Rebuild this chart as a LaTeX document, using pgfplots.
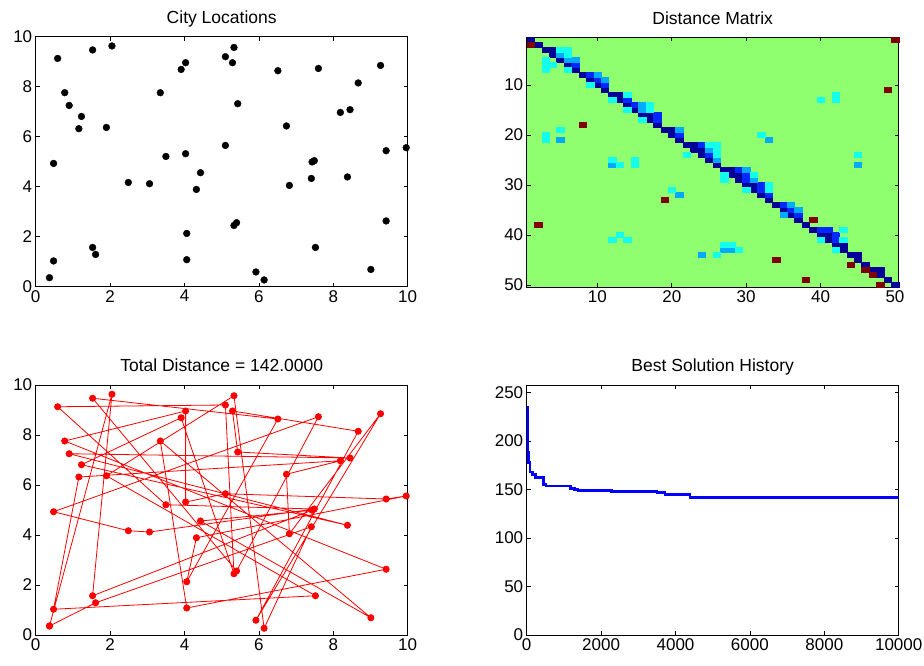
\documentclass[border=0pt]{standalone}
\usepackage{fontspec}
\setmainfont{Liberation Sans}
\usepackage{pgfplots}
\pgfplotsset{compat=1.18}
\definecolor{mnavy}{RGB}{0,0,150}
\definecolor{mblue}{RGB}{0,40,255}
\definecolor{mlblue}{RGB}{0,170,255}
\definecolor{mcyan}{RGB}{20,255,235}
\definecolor{mdred}{RGB}{128,0,0}
\definecolor{mgreen}{RGB}{143,255,112}
\pgfplotsset{
  mstyle/.style={
    scale only axis, width=372pt, height=250pt, anchor=south west,
    axis line style={line width=0.9pt},
    tick align=inside, major tick length=4pt,
    every tick/.style={black, line width=0.7pt},
    tick label style={font=\fontsize{17}{20}\selectfont},
    title style={font=\fontsize{17.5}{20}\selectfont, at={(0.5,1)}, anchor=base, yshift=7pt},
    /pgf/number format/assume math mode=true,
    /pgf/number format/1000 sep={},
    scaled ticks=false,
  },
  cell/.style={only marks, mark=square*, mark size=2.5pt, mark options={xscale=1.49, line width=0.15pt}},
}
\begin{document}
\begin{tikzpicture}
\useasboundingbox (0,0) rectangle (924pt,666pt);
% ---------- City Locations ----------
\begin{axis}[mstyle, at={(35.7pt,379.3pt)}, xmin=0, xmax=10, ymin=0, ymax=10,
  xtick={0,2,...,10}, ytick={0,2,...,10}, title={City Locations}]
\addplot[only marks, mark=*, mark size=3.4pt, color=black] coordinates {
(0.37,0.36) (0.48,1.03) (0.48,4.93) (0.59,9.13) (0.78,7.76) (0.90,7.25) (1.23,6.81) (1.16,6.32) (1.53,9.47) (2.05,9.63)
(1.90,6.37) (1.53,1.57) (1.61,1.29) (2.49,4.17) (3.06,4.12) (3.35,7.76) (3.50,5.21) (3.91,8.69) (4.03,8.96) (4.03,5.32)
(4.06,2.13) (4.06,1.08) (4.32,3.89) (4.43,4.56) (5.10,9.20) (5.33,9.57) (5.29,8.96) (5.10,5.65) (5.43,7.32) (5.33,2.45)
(5.40,2.56) (5.92,0.59) (6.14,0.27) (6.51,8.64) (6.74,6.43) (6.82,4.05) (7.41,4.33) (7.43,4.99) (7.49,5.04) (7.60,8.73)
(7.52,1.57) (8.19,6.97) (8.45,7.08) (8.38,4.39) (8.67,8.15) (9.01,0.69) (9.27,8.85) (9.42,5.44) (9.42,2.63) (9.96,5.56)};
\end{axis}
% ---------- Distance Matrix ----------
\begin{axis}[mstyle, at={(526.7pt,378.5pt)}, xmin=0.5, xmax=50.5, ymin=0.5, ymax=50.5, y dir=reverse,
  xtick={10,20,30,40,50}, ytick={10,20,30,40,50}, title={Distance Matrix},
  axis background/.style={fill=mgreen}]
\addplot[cell, color=mnavy] coordinates {
(1,1) (2,2) (3,3) (4,4) (5,5) (6,6) (7,7) (8,8) (9,9) (10,10) (11,11) (12,12) (13,13) (14,14) (15,15) (16,16) (17,17)
(18,18) (19,19) (20,20) (21,21) (22,22) (23,23) (24,24) (25,25) (26,26) (27,27) (28,28) (29,29) (30,30) (31,31) (32,32)
(33,33) (34,34) (35,35) (36,36) (37,37) (38,38) (39,39) (40,40) (41,41) (42,42) (43,43) (44,44) (45,45) (46,46) (47,47)
(48,48) (49,49) (50,50)
(4,3) (13,12) (17,16) (20,19) (23,22) (24,23) (28,27) (29,28) (31,30) (41,40) (43,42) (45,44) (48,47)};
\addplot[cell, color=mblue] coordinates {
(7,6) (9,8) (10,9) (11,10) (14,13) (15,14) (18,16) (18,17) (21,20) (24,22) (25,24) (29,27) (30,28) (30,29) (32,30)
(32,31) (33,32) (35,34) (36,35) (37,36) (40,39) (41,39) (42,40) (42,41)};
\addplot[cell, color=mlblue] coordinates {
(5,4) (6,5) (7,5) (10,8) (11,9) (16,14) (16,15) (21,19) (5,21) (33,21) (25,23) (26,25) (12,26) (45,26) (30,27)
(31,29) (21,32) (36,34) (37,35) (35,36) (27,43) (28,43) (24,44)};
\addplot[cell, color=mcyan] coordinates {
(5,3) (6,3) (6,4) (3,5) (3,6) (4,6) (3,7) (6,7) (9,10) (14,12) (12,13) (17,14) (14,15) (17,15) (16,17) (5,19) (3,20)
(3,21) (32,20) (25,22) (26,22) (26,23) (22,24) (26,24) (45,24) (12,25) (15,25) (13,26) (15,26) (27,28) (27,29) (31,28)
(33,30) (30,31) (33,31) (20,31) (43,39) (13,40) (40,41) (43,41) (12,41) (14,41) (27,42) (28,42) (42,43) (29,43) (26,44)
(40,13) (42,12) (42,13)};
\addplot[cell, color=mdred] coordinates {
(50,1) (1,2) (49,11) (8,18) (19,33) (39,37) (2,38) (34,45) (44,46) (46,47) (47,48) (38,49) (48,50)};
\end{axis}
% ---------- Route ----------
\begin{axis}[mstyle, at={(35.7pt,31pt)}, xmin=0, xmax=10, ymin=0, ymax=10,
  xtick={0,2,...,10}, ytick={0,2,...,10}, title={Total Distance = 142.0000}]
\addplot[color=red, line width=0.8pt, mark=*, mark size=3.1pt, mark options={fill=red}] coordinates {
(0.37,0.36) (2.05,9.63) (1.53,1.57) (7.43,4.99) (4.43,4.56) (9.01,0.69) (3.35,7.76) (4.06,1.08) (9.42,2.63) (0.78,7.76)
(4.03,8.96) (4.03,5.32) (5.10,5.65) (9.42,5.44) (9.96,5.56) (4.32,3.89) (4.06,2.13) (6.51,8.64) (1.53,9.47) (5.40,2.56)
(7.60,8.73) (0.48,4.93) (2.49,4.17) (3.06,4.12) (7.49,5.04) (3.50,5.21) (0.59,9.13) (5.10,9.20) (5.33,2.45) (3.91,8.69)
(1.23,6.81) (8.38,4.39) (0.90,7.25) (8.45,7.08) (5.43,7.32) (5.29,8.96) (8.67,8.15) (5.92,0.59) (9.27,8.85) (6.82,4.05)
(6.74,6.43) (8.19,6.97) (1.16,6.32) (0.48,1.03) (7.52,1.57) (1.90,6.37) (5.33,9.57) (6.14,0.27) (7.41,4.33) (1.61,1.29)
(0.37,0.36)};
\end{axis}
% ---------- History ----------
\begin{axis}[mstyle, at={(526.7pt,31pt)}, xmin=0, xmax=10000, ymin=0, ymax=257.6,
  xtick={0,2000,...,10000}, ytick={0,50,...,250}, title={Best Solution History}]
\addplot[const plot, color=blue, line width=2.8pt] coordinates {
(1,234.5) (12,208) (30,188) (55,178) (90,168) (160,165) (240,162.5) (450,155) (520,153.5) (1180,151) (1280,150)
(1380,149) (2280,148) (3500,146.5) (3720,145) (4390,142) (10000,142)};
\end{axis}
\end{tikzpicture}
\end{document}
